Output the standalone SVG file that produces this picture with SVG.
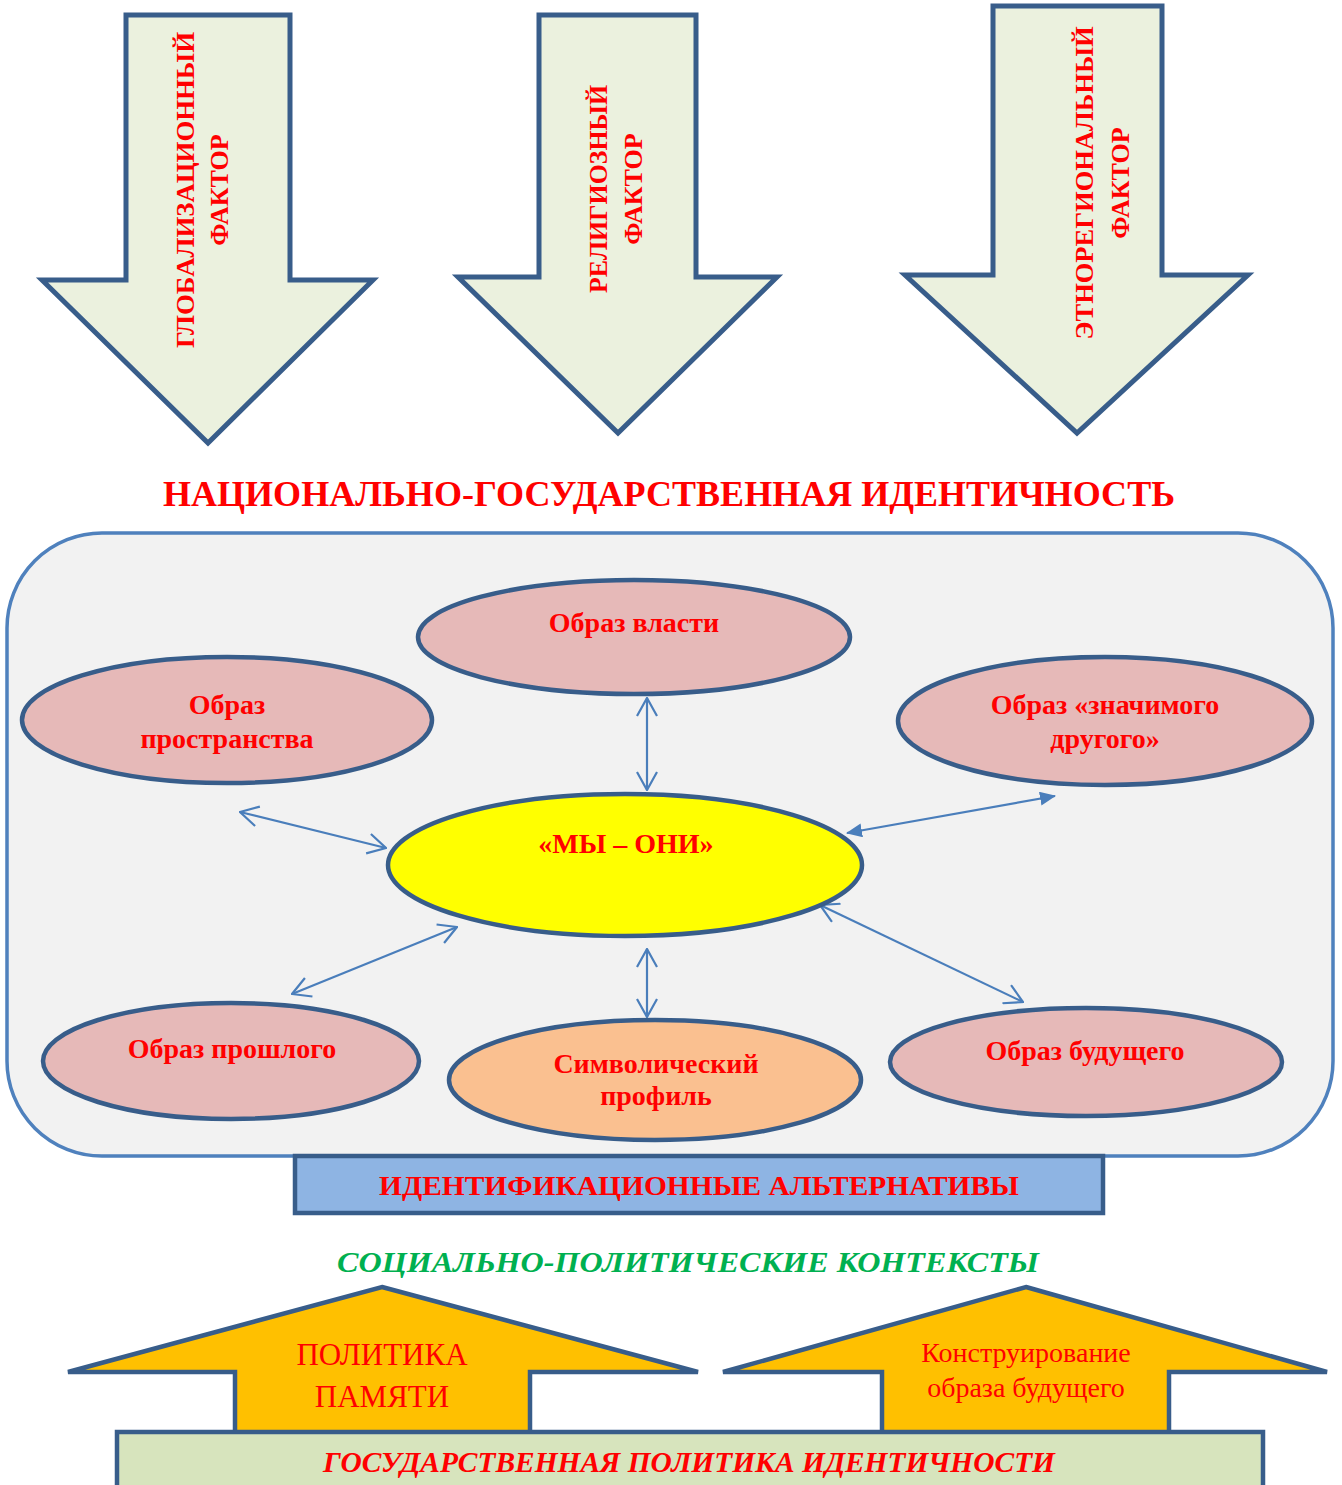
<svg xmlns="http://www.w3.org/2000/svg" width="1342" height="1485" viewBox="0 0 1342 1485">
<defs>
<style>
.bg{fill:#FFFFFF}
.factor{fill:#EBF1DE;stroke:#385D8A;stroke-width:5;stroke-linejoin:miter}
.ftxt{font-family:"Liberation Serif","Times New Roman",serif;font-weight:bold;font-size:26px;fill:#FF0000;text-anchor:middle}
.title{font-family:"Liberation Serif","Times New Roman",serif;font-weight:bold;font-size:35px;fill:#FF0000;text-anchor:middle}
.panel{fill:#F2F2F2;stroke:#4F81BD;stroke-width:3.5}
.ell{fill:#E6B9B8;stroke:#385D8A;stroke-width:4.5}
.core{fill:#FFFF00;stroke:#385D8A;stroke-width:4.5}
.sym{fill:#FAC090;stroke:#385D8A;stroke-width:4.5}
.etxt{font-family:"Liberation Serif","Times New Roman",serif;font-weight:bold;font-size:28px;fill:#FF0000;text-anchor:middle}
.conn{stroke:#4A7EBB;stroke-width:2.2;fill:none}
.bar{fill:#8EB4E3;stroke:#385D8A;stroke-width:4.5}
.btxt{font-family:"Liberation Serif","Times New Roman",serif;font-weight:bold;font-size:28px;fill:#FF0000;text-anchor:middle}
.green{font-family:"Liberation Serif","Times New Roman",serif;font-weight:bold;font-style:italic;font-size:30px;fill:#00B050;text-anchor:middle}
.up{fill:#FFC000;stroke:#385D8A;stroke-width:4.5}
.utxt{font-family:"Liberation Serif","Times New Roman",serif;font-size:31px;fill:#FF0000;text-anchor:middle}
.utxt2{font-family:"Liberation Serif","Times New Roman",serif;font-size:28px;fill:#FF0000;text-anchor:middle}
.base{fill:#D7E4BD;stroke:#385D8A;stroke-width:4.5}
.basetxt{font-family:"Liberation Serif","Times New Roman",serif;font-weight:bold;font-style:italic;font-size:29px;fill:#FF0000;text-anchor:middle}
</style>
<marker id="openHead" viewBox="0 0 20 22" refX="19" refY="11" markerWidth="20" markerHeight="22" markerUnits="userSpaceOnUse" orient="auto-start-reverse">
<path d="M1,1 L19,11 L1,21" fill="none" stroke="#4A7EBB" stroke-width="2.2"/>
</marker>
<marker id="solidHead" viewBox="0 0 16 14" refX="15" refY="7" markerWidth="16" markerHeight="14" markerUnits="userSpaceOnUse" orient="auto-start-reverse">
<path d="M0,0 L16,7 L0,14 Z" fill="#4A7EBB"/>
</marker>
</defs>
<rect class="bg" x="0" y="0" width="1342" height="1485"/>

<g id="factor-global">
<polygon class="factor" points="126,15 290,15 290,280 373,280 208,443 42,280 126,280"/>
<text class="ftxt" transform="translate(208,190) rotate(-90)"><tspan x="0" y="-14" textLength="316" lengthAdjust="spacingAndGlyphs">ГЛОБАЛИЗАЦИОННЫЙ</tspan><tspan x="0" y="20">ФАКТОР</tspan></text>
</g>
<g id="factor-religious">
<polygon class="factor" points="539,15 696,15 696,277 777,277 618,433 458,277 539,277"/>
<text class="ftxt" transform="translate(618,189) rotate(-90)"><tspan x="0" y="-11" textLength="208" lengthAdjust="spacingAndGlyphs">РЕЛИГИОЗНЫЙ</tspan><tspan x="0" y="24">ФАКТОР</tspan></text>
</g>
<g id="factor-ethno">
<polygon class="factor" points="993,6 1162,6 1162,275 1248,275 1077,433 905,275 993,275"/>
<text class="ftxt" transform="translate(1077,183) rotate(-90)"><tspan x="0" y="16" textLength="313" lengthAdjust="spacingAndGlyphs">ЭТНОРЕГИОНАЛЬНЫЙ</tspan><tspan x="0" y="52">ФАКТОР</tspan></text>
</g>

<g id="title">
<text class="title" x="669" y="506" textLength="1012" lengthAdjust="spacingAndGlyphs">НАЦИОНАЛЬНО-ГОСУДАРСТВЕННАЯ ИДЕНТИЧНОСТЬ</text>
</g>

<g id="panel">
<rect class="panel" x="7" y="533" width="1326" height="623" rx="95" ry="95"/>
</g>

<g id="connectors">
<line class="conn" x1="647" y1="698" x2="647" y2="790" marker-start="url(#openHead)" marker-end="url(#openHead)"/>
<line class="conn" x1="647" y1="949" x2="647" y2="1017" marker-start="url(#openHead)" marker-end="url(#openHead)"/>
<line class="conn" x1="240" y1="812" x2="386" y2="848" marker-start="url(#openHead)" marker-end="url(#openHead)"/>
<line class="conn" x1="292" y1="994" x2="457" y2="927" marker-start="url(#openHead)" marker-end="url(#openHead)"/>
<line class="conn" x1="847" y1="833" x2="1055" y2="796" marker-start="url(#solidHead)" marker-end="url(#solidHead)"/>
<line class="conn" x1="820" y1="905" x2="1023" y2="1002" marker-start="url(#openHead)" marker-end="url(#openHead)"/>
</g>

<g id="node-vlast">
<ellipse class="ell" cx="634" cy="637" rx="216" ry="57"/>
<text class="etxt" x="634" y="632">Образ власти</text>
</g>
<g id="node-prostranstvo">
<ellipse class="ell" cx="227" cy="720" rx="205" ry="63"/>
<text class="etxt" x="227" y="714">Образ</text>
<text class="etxt" x="227" y="748">пространства</text>
</g>
<g id="node-drugoy">
<ellipse class="ell" cx="1105" cy="721" rx="207" ry="64"/>
<text class="etxt" x="1105" y="714">Образ «значимого</text>
<text class="etxt" x="1105" y="748">другого»</text>
</g>
<g id="node-my-oni">
<ellipse class="core" cx="625" cy="865" rx="237" ry="71"/>
<text class="etxt" x="626" y="853">«МЫ – ОНИ»</text>
</g>
<g id="node-proshloe">
<ellipse class="ell" cx="231" cy="1061" rx="188" ry="58"/>
<text class="etxt" x="232" y="1058">Образ прошлого</text>
</g>
<g id="node-symbol">
<ellipse class="sym" cx="655" cy="1080" rx="206" ry="60"/>
<text class="etxt" x="656" y="1073">Символический</text>
<text class="etxt" x="656" y="1105">профиль</text>
</g>
<g id="node-budushee">
<ellipse class="ell" cx="1086" cy="1062" rx="196" ry="54"/>
<text class="etxt" x="1085" y="1060">Образ будущего</text>
</g>

<g id="alternatives">
<rect class="bar" x="295" y="1156" width="808" height="57"/>
<text class="btxt" x="699" y="1195" textLength="640" lengthAdjust="spacingAndGlyphs">ИДЕНТИФИКАЦИОННЫЕ АЛЬТЕРНАТИВЫ</text>
</g>

<g id="contexts">
<text class="green" x="688" y="1272" textLength="702" lengthAdjust="spacingAndGlyphs">СОЦИАЛЬНО-ПОЛИТИЧЕСКИЕ КОНТЕКСТЫ</text>
</g>

<g id="policy-memory">
<polygon class="up" points="382,1287 698,1372 530,1372 530,1434 235,1434 235,1372 68,1372"/>
<text class="utxt" x="382" y="1365">ПОЛИТИКА</text>
<text class="utxt" x="382" y="1407">ПАМЯТИ</text>
</g>
<g id="future-construct">
<polygon class="up" points="1026,1287 1327,1372 1169,1372 1169,1434 882,1434 882,1372 723,1372"/>
<text class="utxt2" x="1026" y="1362">Конструирование</text>
<text class="utxt2" x="1026" y="1397">образа будущего</text>
</g>

<g id="state-policy">
<rect class="base" x="117" y="1432" width="1146" height="70"/>
<text class="basetxt" x="689" y="1472" textLength="732" lengthAdjust="spacingAndGlyphs">ГОСУДАРСТВЕННАЯ ПОЛИТИКА ИДЕНТИЧНОСТИ</text>
</g>
</svg>
